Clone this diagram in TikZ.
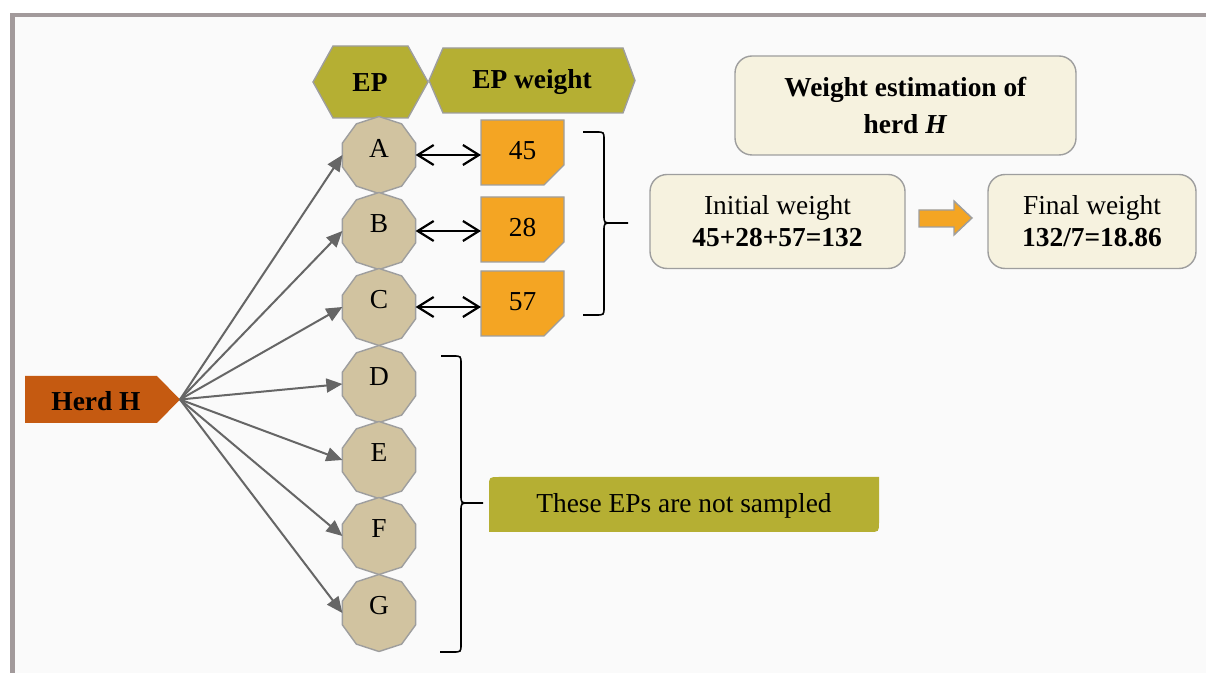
\documentclass[tikz,border=0pt]{standalone}
\usepackage{fontspec}
\setmainfont{Liberation Serif}
\usetikzlibrary{shapes.geometric,shapes.misc,arrows.meta}

\definecolor{bggray}{HTML}{FAFAFA}
\definecolor{framegray}{HTML}{A29A9B}
\definecolor{epolive}{HTML}{B5AF33}
\definecolor{eptan}{HTML}{D1C3A0}
\definecolor{eporange}{HTML}{F4A523}
\definecolor{herdrust}{HTML}{C55A11}
\definecolor{cream}{HTML}{F6F2DF}
\definecolor{edgegray}{HTML}{9E9E9E}
\definecolor{fangray}{HTML}{666666}

\begin{document}
\begin{tikzpicture}[x=0.5pt,y=-0.5pt,
  font=\fontsize{13.7}{15.5}\selectfont,
  edge/.style={draw=edgegray, line width=0.7pt},
  deca/.style={regular polygon, regular polygon sides=10, shape border rotate=18,
    minimum size=38.5pt, inner sep=0pt, outer sep=0pt, fill=eptan, edge},
  letter/.style={yshift=3.5pt, inner sep=0pt},
  wbox/.style={chamfered rectangle, chamfered rectangle corners=south east,
    chamfered rectangle xsep=5pt, chamfered rectangle ysep=5pt,
    minimum width=41.5pt, minimum height=32.5pt, inner sep=0pt, outer sep=0pt,
    fill=eporange, edge},
  card/.style={rectangle, rounded corners=8.5pt, fill=cream, edge, align=center, inner sep=0pt},
  fan/.style={draw=fangray, line width=1pt, -{Triangle[length=8pt,width=7pt]}},
  link/.style={draw=black, line width=1.1pt,
    {Straight Barb[length=8pt,width=10pt]}-{Straight Barb[length=8pt,width=10pt]}},
  curly/.style={draw=black, line width=0.8pt},
]
\useasboundingbox (0,0) rectangle (1206,673);

% page frame
\fill[white] (0,0) rectangle (1206,673);
\fill[bggray] (15,17) rectangle (1206,673);
\fill[framegray] (10,13) rectangle (1206,17);
\fill[framegray] (10,13) rectangle (15,673);

% column headers
\draw[edge, fill=epolive] (313,82) -- (333,46) -- (408,46) -- (428,82) -- (408,118) -- (333,118) -- cycle;
\node (ep) at (370,83) {\textbf{EP}};
\draw[edge, fill=epolive] (429,80.5) -- (443,48) -- (623,48) -- (635,80.5) -- (623,113) -- (443,113) -- cycle;
\node (epw) at (532,82) {\textbf{EP weight}};

% sampling points
\node[deca, label={[letter]center:A}] (A) at (379,155) {};
\node[deca, label={[letter]center:B}] (B) at (379,231) {};
\node[deca, label={[letter]center:C}] (C) at (379,307) {};
\node[deca, label={[letter]center:D}] (D) at (379,384) {};
\node[deca, label={[letter]center:E}] (E) at (379,460) {};
\node[deca, label={[letter]center:F}] (F) at (379,536) {};
\node[deca, label={[letter]center:G}] (G) at (379,613) {};

% measured weights
\node[wbox] (w45) at (522.5,152.5) {\raisebox{2.2pt}{45}};
\node[wbox] (w28) at (522.5,229.5) {\raisebox{2.2pt}{28}};
\node[wbox] (w57) at (522.5,303.5) {\raisebox{2.2pt}{57}};
\draw[link] (A.east) -- (A.east -| w45.west);
\draw[link] (B.east) -- (B.east -| w28.west);
\draw[link] (C.east) -- (C.east -| w57.west);

% herd
\fill[herdrust] (25,376) -- (157,376) -- (180,399.5) -- (157,423) -- (25,423) -- cycle;
\coordinate (herdtip) at (180,399.5);
\node (herd) at (96,401) {\textbf{Herd H}};
\foreach \n in {A,B,C,D,E,F,G}
  \draw[fan] (herdtip) -- (\n.west);

% brace over the sampled weights
\draw[curly] (583,132) -- (596,132) .. controls (604,132) .. (604,140) -- (604,215)
  .. controls (604,223) .. (612,223) -- (628,223);
\draw[curly] (612,223) .. controls (604,223) .. (604,231) -- (604,307)
  .. controls (604,315) .. (596,315) -- (583,315);

% brace over the unsampled points
\draw[curly] (441,356) -- (453,356) .. controls (461,356) .. (461,364) -- (461,495)
  .. controls (461,503) .. (469,503) -- (483,503);
\draw[curly] (469,503) .. controls (461,503) .. (461,511) -- (461,644)
  .. controls (461,652) .. (453,652) -- (440,652);

% note on unsampled points
\fill[epolive] (489,532) -- (489,487) .. controls (489,477) .. (499,477) -- (879,477)
  -- (879,522) .. controls (879,532) .. (869,532) -- cycle;
\node (ns) at (684,505.5) {These EPs are not sampled};

% estimation
\node[card, minimum width=170.5pt, minimum height=49.5pt] (est) at (905.5,105.5)
  {\textbf{Weight estimation of}\\[2.8pt]\textbf{herd \textit{H}}};
\node[card, minimum width=127.5pt, minimum height=47pt] (init) at (777.5,221.5)
  {Initial weight\\[0.5pt]\textbf{45+28+57=132}};
\node[card, minimum width=104pt, minimum height=47pt] (final) at (1092,221.5)
  {Final weight\\[0.5pt]\textbf{132/7=18.86}};
\draw[edge, fill=eporange] (919,210) -- (954,210) -- (954,201) -- (972,218)
  -- (954,235) -- (954,227) -- (919,227) -- cycle;
\end{tikzpicture}
\end{document}
